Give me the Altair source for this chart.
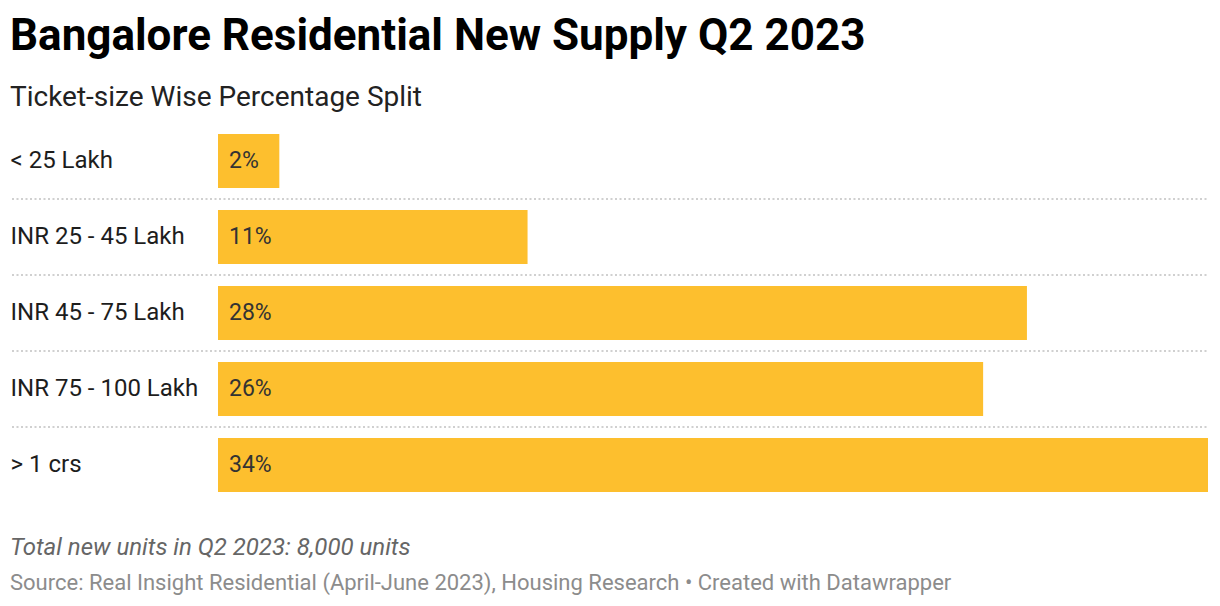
import altair as alt
import pandas as pd

title_text = "Bangalore Residential New Supply Q2 2023"
subtitle_text = "Ticket-size Wise Percentage Split"
note_text = "Total new units in Q2 2023: 8,000 units"
source_text = "Source: Real Insight Residential (April-June 2023), Housing Research \u2022 Created with Datawrapper"

categories = ["< 25 Lakh", "INR 25 - 45 Lakh", "INR 45 - 75 Lakh", "INR 75 - 100 Lakh", "> 1 crs"]
values = [2.1, 10.6, 27.7, 26.2, 33.9]
labels = ["2%", "11%", "28%", "26%", "34%"]

FONT = "Roboto"
BAR = "#fdbf2e"

df = pd.DataFrame({"category": categories, "value": values, "label": labels})
sep_df = pd.DataFrame({"category": categories[1:]})

yenc = alt.Y(
    "category:N",
    sort=categories,
    scale=alt.Scale(paddingInner=0.29, paddingOuter=0.145),
    axis=alt.Axis(
        title=None, domain=False, ticks=False, grid=False, labelAlign="left", labelPadding=208,
        labelFontSize=24, labelFont=FONT, labelColor="#1d1d1d", labelLimit=300,
    ),
)

bars = alt.Chart(df).mark_bar(color=BAR).encode(
    x=alt.X("value:Q", scale=alt.Scale(domain=[0, max(values)], nice=False, zero=True), axis=None),
    y=yenc,
)

vals = alt.Chart(df).mark_text(
    align="left", baseline="middle", dx=11, fontSize=23, font=FONT, color="#333333"
).encode(
    x=alt.value(0),
    y=alt.Y("category:N", sort=categories),
    text="label:N",
)

seps = alt.Chart(sep_df).mark_rule(
    color="#d0d0d0", strokeWidth=2, strokeDash=[2, 2.5]
).encode(
    y=alt.Y("category:N", sort=categories),
    yOffset=alt.value(-11),
    x=alt.value(-206),
    x2=alt.value(990),
)

def txt(text, y, size, color, weight="normal", style="normal"):
    return alt.Chart(pd.DataFrame({"t": [text]})).mark_text(
        align="left", baseline="alphabetic", fontSize=size, font=FONT,
        color=color, fontWeight=weight, fontStyle=style,
    ).encode(x=alt.value(-208), y=alt.value(y), text="t:N")

title = txt(title_text, -73, 44, "#000000", weight="bold")
subtitle = txt(subtitle_text, -17, 28, "#222222")
note = txt(note_text, 432, 24, "#666666", style="italic")
source = txt(source_text, 467, 22, "#8c8c8c")

chart = alt.layer(seps, bars, vals, title, subtitle, note, source).properties(
    width=990, height=380,
    autosize=alt.AutoSizeParams(type="none"),
    padding={"left": 210, "top": 115, "right": 4, "bottom": 100},
).configure(background="white").configure_view(stroke=None, strokeWidth=0)

chart.save("out.html", embed_options={"renderer": "svg", "actions": False})
